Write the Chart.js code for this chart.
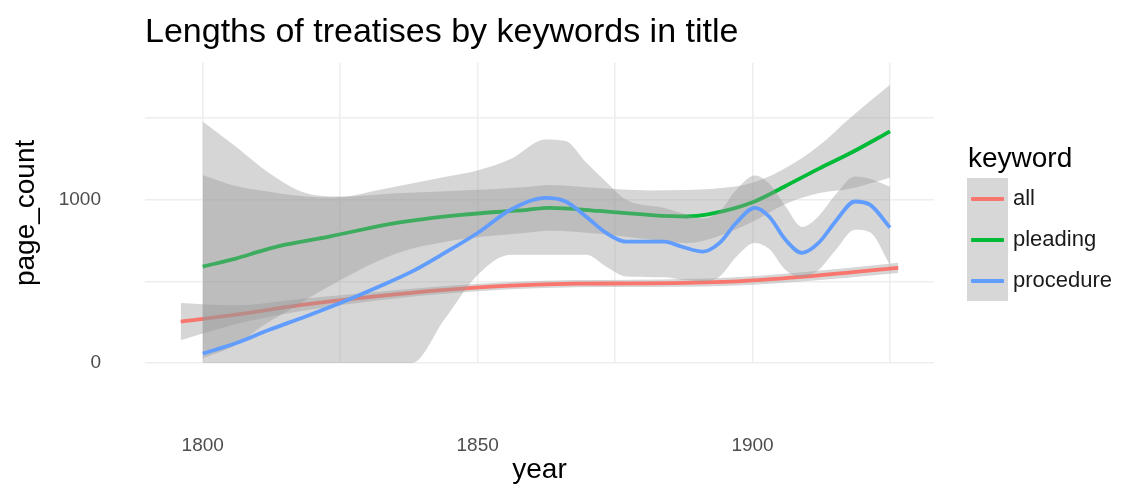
<!DOCTYPE html>
<html>
<head>
<meta charset="utf-8">
<script src="https://cdn.jsdelivr.net/npm/chart.js@4.4.1/dist/chart.umd.min.js"></script>
<style>
  html, body { margin: 0; padding: 0; background: #fff; }
  #wrap { position: relative; width: 1122px; height: 492px; overflow: hidden; }
  #chart { position: absolute; left: 0; top: 0; }
  .lg { position: absolute; font-family: "Liberation Sans", Arial, sans-serif; color: #1a1a1a; white-space: nowrap; }
  .lg-title { font-size: 28px; line-height: 28px; color: #000; }
  .lg-keys { background: #d7d7d7; }
  .lg-line { position: absolute; height: 4px; border-radius: 1px; }
  .lg-label { font-size: 22px; line-height: 22px; }
</style>
</head>
<body>
<div id="wrap">
  <canvas id="chart" width="1122" height="492"></canvas>
  <div id="legend"></div>
</div>
<script>
// Smoothed page counts by year, with confidence bands, per title keyword.
const keywords = ["all", "pleading", "procedure"];
const lineColors = ["#F8766D", "#00BA38", "#619CFF"];

const allYears = [1796, 1806, 1818, 1831, 1844, 1856, 1868, 1879, 1896, 1909, 1926.5];
const allFit   = [253, 296, 356, 407, 448, 474, 486, 488, 499, 528, 583];
const allLow   = [140, 238, 318, 380, 424, 452, 464, 466, 474, 500, 552];
const allHigh  = [368, 354, 394, 434, 472, 496, 508, 510, 524, 556, 614];

const pleadingYears = [1800, 1806, 1811, 1815, 1823, 1835, 1847, 1859, 1863, 1872, 1881, 1888, 1893, 1900, 1906, 1912, 1918, 1925];
const pleadingFit   = [591, 640, 690, 725, 775, 858, 908, 939, 951, 932, 908, 898, 918, 985, 1085, 1190, 1290, 1420];
const pleadingLow   = [29, 110, 230, 310, 470, 668, 758, 799, 811, 792, 758, 735, 768, 865, 975, 1040, 1070, 1135];
const pleadingHigh  = [1153, 1085, 1055, 1035, 1015, 1040, 1058, 1079, 1091, 1072, 1058, 1061, 1068, 1105, 1195, 1330, 1510, 1705];

const procedureYears = [1800, 1806, 1812, 1818.6, 1825, 1832, 1838, 1844, 1850, 1856, 1862.4, 1866, 1869.7, 1873.4, 1877, 1884, 1887, 1891, 1894, 1897, 1900.4, 1903, 1906, 1909, 1912, 1915.3, 1918.6, 1921.4, 1925];
const procedureFit   = [58, 121, 202, 284, 368, 468, 560, 675, 797, 939, 1012, 990, 898, 797, 744, 744, 714, 683, 736, 858, 951, 898, 755, 675, 736, 877, 990, 969, 830];
const procedureLow   = [0, 0, 0, 0, 0, 0, 0, 270, 540, 663, 663, 663, 663, 590, 530, 525, 510, 500, 530, 650, 736, 700, 570, 525, 570, 700, 816, 800, 600];
const procedureHigh  = [1480, 1327, 1166, 1043, 1020, 1061, 1100, 1140, 1180, 1250, 1370, 1360, 1230, 1110, 1000, 950, 920, 885, 930, 1060, 1150, 1100, 960, 834, 900, 1040, 1143, 1130, 1080];

const xTickValues = [1800, 1825, 1850, 1875, 1900, 1925];
const xTickLabels = ["1800", "", "1850", "", "1900", ""];
const yTickValues = [0, 500, 1000, 1500];
const yTickLabels = ["0", "", "1000", ""];

const FONT = "'Liberation Sans', Arial, sans-serif";
const BAND = "rgba(153,153,153,0.4)";
const GRID = "#eeeeee";

const series = [
  { years: allYears, fit: allFit, low: allLow, high: allHigh },
  { years: pleadingYears, fit: pleadingFit, low: pleadingLow, high: pleadingHigh },
  { years: procedureYears, fit: procedureFit, low: procedureLow, high: procedureHigh }
];

const pts = (xs, ys) => xs.map((x, i) => ({ x: x, y: ys[i] }));

// Per keyword: band top, band bottom (filled up to the top), then the fitted line.
const datasets = [];
series.forEach((s, k) => {
  datasets.push({
    label: keywords[k] + " upper", data: pts(s.years, s.high),
    borderWidth: 0, borderColor: "rgba(0,0,0,0)", pointRadius: 0, fill: false,
    cubicInterpolationMode: "monotone"
  });
  datasets.push({
    label: keywords[k] + " lower", data: pts(s.years, s.low),
    borderWidth: 0, borderColor: "rgba(0,0,0,0)", pointRadius: 0,
    fill: "-1", backgroundColor: BAND,
    cubicInterpolationMode: "monotone"
  });
  datasets.push({
    label: keywords[k], data: pts(s.years, s.fit),
    borderWidth: 3.8, borderColor: lineColors[k], pointRadius: 0, fill: false,
    cubicInterpolationMode: "monotone", borderCapStyle: "butt"
  });
});
// draw in the order listed (earlier datasets underneath)
datasets.forEach((d, i) => { d.order = datasets.length - i; });

new Chart(document.getElementById("chart"), {
  type: "line",
  data: { datasets: datasets },
  options: {
    responsive: false,
    animation: false,
    events: [],
    layout: { padding: { left: 0, right: 188, top: 0, bottom: 0 } },
    plugins: {
      legend: { display: false },
      tooltip: { enabled: false },
      filler: { drawTime: "beforeDatasetDraw" },
      title: {
        display: true,
        text: "Lengths of treatises by keywords in title",
        align: "start",
        fullSize: false,
        color: "#000",
        font: { family: FONT, size: 34, weight: "normal" },
        padding: { top: 12, bottom: 10 }
      }
    },
    scales: {
      x: {
        type: "linear",
        min: 1789.5,
        max: 1933,
        afterFit: (s) => { s.height = 129; },
        afterBuildTicks: (s) => { s.ticks = xTickValues.map(v => ({ value: v })); },
        grid: { color: GRID, lineWidth: 1.6, drawTicks: false },
        border: { display: false },
        ticks: {
          padding: 71,
          color: "#4d4d4d",
          font: { family: FONT, size: 19 },
          maxRotation: 0,
          autoSkip: false,
          callback: (v, i) => xTickLabels[i]
        },
        title: {
          display: true, text: "year", color: "#000",
          font: { family: FONT, size: 28 },
          padding: { top: 0, bottom: 5 }
        }
      },
      y: {
        type: "linear",
        min: 0,
        max: 1840,
        afterFit: (s) => { s.width = 145; },
        afterBuildTicks: (s) => { s.ticks = yTickValues.map(v => ({ value: v })); },
        grid: { color: GRID, lineWidth: 1.6, drawTicks: false },
        border: { display: false },
        ticks: {
          padding: 44,
          color: "#4d4d4d",
          font: { family: FONT, size: 19 },
          callback: (v, i) => yTickLabels[i]
        },
        title: {
          display: true, text: "page_count", color: "#000",
          font: { family: FONT, size: 28 },
          padding: { top: 9, bottom: 0 }
        }
      }
    }
  }
});

// Legend: title, grey key column with coloured strokes, labels.
(function buildLegend() {
  const box = document.getElementById("legend");
  const left = 967, top = 178, keyW = 41, keyH = 41;
  const t = document.createElement("div");
  t.className = "lg lg-title";
  t.textContent = "keyword";
  t.style.left = (left + 1) + "px";
  t.style.top = (top - 34) + "px";
  box.appendChild(t);
  const keys = document.createElement("div");
  keys.className = "lg lg-keys";
  keys.style.left = left + "px";
  keys.style.top = top + "px";
  keys.style.width = keyW + "px";
  keys.style.height = (keyH * keywords.length) + "px";
  box.appendChild(keys);
  keywords.forEach((name, k) => {
    const ln = document.createElement("div");
    ln.className = "lg-line";
    ln.style.background = lineColors[k];
    ln.style.left = "4px";
    ln.style.width = (keyW - 8) + "px";
    ln.style.top = (k * keyH + keyH / 2 - 2) + "px";
    keys.appendChild(ln);
    const lb = document.createElement("div");
    lb.className = "lg lg-label";
    lb.textContent = name;
    lb.style.left = (left + keyW + 5) + "px";
    lb.style.top = (top + k * keyH + keyH / 2 - 12) + "px";
    box.appendChild(lb);
  });
})();
</script>
</body>
</html>
